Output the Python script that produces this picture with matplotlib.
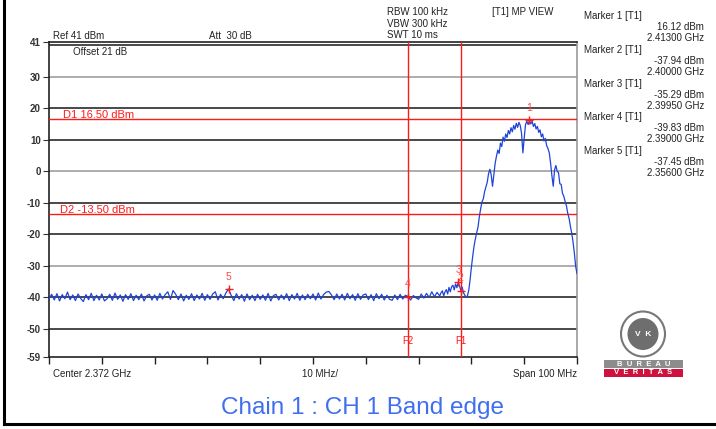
import numpy as np
import matplotlib
matplotlib.use("Agg")
import matplotlib.pyplot as plt
from matplotlib.patches import Ellipse, Rectangle
from matplotlib.lines import Line2D

plt.rcParams['font.family'] = ['Liberation Sans', 'DejaVu Sans']

# ---------------- data ----------------
center_mhz = 2372.0
span_mhz = 100.0
ref_level = 41
bottom_level = -59
y_tick_labels = [41, 30, 20, 10, 0, -10, -20, -30, -40, -50, -59]
grid_levels = [40, 30, 20, 10, 0, -10, -20, -30, -40, -50]

# noise floor, 2322.0 .. 2395.5 MHz every 0.5 MHz
noise_start, noise_step = 2322.0, 0.5
noise_dbm = [
    -40.6, -39.1, -40.9, -38.9, -41.2, -39.2, -40.5, -38.4, -40.8, -39.3,
    -41.1, -39.0, -40.4, -41.4, -39.2, -40.8, -38.8, -41.1, -39.4, -40.9,
    -39.0, -41.2, -40.5, -39.1, -41.0, -38.7, -40.7, -39.3, -41.3, -39.2,
    -40.7, -38.9, -41.1, -39.4, -40.8, -39.0, -41.2, -39.6, -39.1, -40.9,
    -39.3, -41.0, -38.8, -40.6, -39.2, -38.3, -40.7, -37.9, -39.1, -40.8,
    -39.0, -41.2, -39.4, -40.7, -38.9, -41.1, -39.3, -40.6, -38.8, -41.0,
    -39.2, -40.7, -39.0, -38.3, -40.9, -39.1, -40.5, -38.7, -37.4, -39.4,
    -41.1, -38.9, -40.6, -39.2, -41.3, -39.0, -40.8, -39.4, -41.1, -39.1,
    -40.7, -39.3, -41.0, -38.8, -41.2, -39.5, -39.1, -40.9, -39.3, -40.7,
    -38.9, -41.1, -39.2, -40.6, -38.8, -41.0, -39.3, -40.8, -39.1, -40.5,
    -39.0, -40.9, -38.7, -40.6, -39.2, -38.4, -38.2, -39.3, -40.8, -39.0,
    -40.6, -39.1, -40.9, -38.8, -40.5, -39.2, -41.0, -38.9, -40.7, -39.3,
    -39.0, -40.8, -39.2, -41.1, -38.9, -40.5, -39.1, -40.9, -39.4, -40.7,
    -41.0, -39.3, -40.8, -39.1, -40.6, -39.4, -39.8, -40.9, -39.5, -40.2,
    -40.7, -39.0, -40.3, -38.8, -40.1, -38.3, -39.9, -38.5,
]

# band edge + carrier, 2396.0 .. 2422.0 MHz every 0.25 MHz
signal_start, signal_step = 2396.0, 0.25
signal_dbm = [
    -39.6, -38.6, -38.0, -39.6, -38.3, -37.6, -39.0, -36.9, -38.3, -36.7,
    -36.2, -37.7, -35.8, -37.0, -35.3, -36.4, -37.9, -36.8, -38.6, -39.4,
    -40.0, -39.6, -37.8, -34.5, -30.5, -27.0, -23.8, -21.5, -19.5, -17.8,
    -14.5, -12.0, -9.8, -8.8, -6.5, -5.0, -3.5, -0.8, 0.6, -1.2,
    -4.8, -1.0, 2.5, 4.8, 6.7, 5.6, 8.9, 7.8, 10.8, 9.5,
    11.8, 10.7, 12.9, 11.8, 13.8, 12.5, 14.5, 13.3, 15.2, 13.9,
    15.5, 14.5, 12.0, 5.8, 10.5, 14.8, 15.8, 14.8, 16.1, 15.0,
    15.8, 14.2, 15.1, 13.4, 14.2, 12.3, 13.1, 10.9, 11.8, 9.6,
    10.4, 8.1, 7.2, 5.8, 2.5, -1.5, -4.8, 0.4, 1.8, 0.0,
    -0.5, -4.0, -4.2, -7.0, -8.0, -9.6, -11.0, -13.4, -15.0, -17.5,
    -19.7, -22.5, -26.0, -30.3, -32.5,
]

marker_ids = ["1", "2", "3", "4", "5"]
marker_freq_ghz = [2.41300, 2.40000, 2.39950, 2.39000, 2.35600]
marker_dbm = [16.12, -37.94, -35.29, -39.83, -37.45]

d1_level = 16.50
d2_level = -13.50
f1_mhz = 2400.0
f2_mhz = 2390.0

# ---------------- figure ----------------
W, H = 716, 429
fig = plt.figure(figsize=(W / 100, H / 100), dpi=100)
fig.patch.set_facecolor("white")


def px(x, y):
    return x / W, 1 - y / H


ax_l, ax_r, ax_t, ax_b = 49, 577, 42, 357
ax = fig.add_axes([ax_l / W, 1 - ax_b / H, (ax_r - ax_l) / W, (ax_b - ax_t) / H])

f_lo = center_mhz - span_mhz / 2
f_hi = center_mhz + span_mhz / 2
ax.set_xlim(f_lo, f_hi)
ax.set_ylim(bottom_level, ref_level)

# y ticks and grid
ax.set_yticks(y_tick_labels)
ax.set_yticklabels([str(v) for v in y_tick_labels], fontsize=7, fontweight="bold", color="#333333")
ax.tick_params(axis="y", which="major", direction="out", length=4, width=0.8, pad=2, color="#333333")
for lvl in grid_levels:
    ax.axhline(lvl, color="#a0a0a0" if lvl in (30, 0, -30) else "#2a2a2a", lw=1.2, zorder=1)

x_ticks = np.arange(f_lo, f_hi + 0.1, span_mhz / 10)
ax.set_xticks(x_ticks)
ax.set_xticklabels([])
ax.tick_params(axis="x", direction="out", length=5, width=1.0, color="#222222")

for s in ("left", "bottom", "top"):
    ax.spines[s].set_color("#222222")
    ax.spines[s].set_linewidth(1.2)
ax.spines["right"].set_color("#9a9a9a")
ax.spines["right"].set_linewidth(1.2)

# display lines
red = "#ff1a1a"
ax.axhline(d1_level, color=red, lw=1.0, zorder=3)
ax.axhline(d2_level, color=red, lw=1.0, zorder=3)
ax.text(0.027, d1_level + 0.3, f"D1 {d1_level:.2f} dBm", color=red, fontsize=8,
        transform=ax.get_yaxis_transform(), va="baseline", ha="left")
ax.text(0.021, d2_level + 0.3, f"D2 {d2_level:.2f} dBm", color=red, fontsize=8,
        transform=ax.get_yaxis_transform(), va="baseline", ha="left")

# frequency lines
ax.axvline(f1_mhz, color=red, lw=1.0, zorder=3)
ax.axvline(f2_mhz, color=red, lw=1.0, zorder=3)
ax.text(f1_mhz, -53.8, "F1", color=red, fontsize=7, ha="center", va="center", zorder=4)
ax.text(f2_mhz, -53.8, "F2", color=red, fontsize=7, ha="center", va="center", zorder=4)

# trace
noise_f = noise_start + noise_step * np.arange(len(noise_dbm))
signal_f = signal_start + signal_step * np.arange(len(signal_dbm))
trace_f = np.concatenate([noise_f, signal_f])
trace_v = np.concatenate([noise_dbm, signal_dbm])
ax.plot(trace_f, trace_v, color="#1e44d8", lw=0.9, zorder=5)

# markers
for mid, fg, lv in zip(marker_ids, marker_freq_ghz, marker_dbm):
    fm = fg * 1000
    ax.plot([fm], [lv], marker="+", color=red, ms=6, mew=1.0, zorder=6)
    ax.annotate(mid, (fm, lv), xytext=(0, 9), textcoords="offset points",
                color="#ff4a4a", fontsize=7.5, ha="center", va="center", zorder=6)

# header texts
hdr = dict(fontsize=7, color="#222222", va="center", ha="left")
fig.text(*px(53, 36), f"Ref {ref_level} dBm", **hdr)
fig.text(*px(209, 36), "Att  30 dB", **hdr)
fig.text(*px(73, 52), "Offset 21 dB", **hdr)
fig.text(*px(387, 12), "RBW 100 kHz", **hdr)
fig.text(*px(387, 24), "VBW 300 kHz", **hdr)
fig.text(*px(387, 35), "SWT 10 ms", **hdr)
fig.text(*px(492, 12), "[T1] MP VIEW", **hdr)

# marker table
for i, (mid, fg, lv) in enumerate(zip(marker_ids, marker_freq_ghz, marker_dbm)):
    y0 = 16 + i * 33.8
    fig.text(*px(584, y0), f"Marker {mid} [T1]", **hdr)
    fig.text(*px(704, y0 + 11), f"{lv:.2f} dBm", fontsize=7, color="#222222", va="center", ha="right")
    fig.text(*px(704, y0 + 22), f"{fg:.5f} GHz", fontsize=7, color="#222222", va="center", ha="right")

# footer texts
fig.text(*px(53, 374), f"Center {center_mhz / 1000:.3f} GHz", **hdr)
fig.text(*px(302, 374), f"{span_mhz / 10:.0f} MHz/", **hdr)
fig.text(*px(577, 374), f"Span {span_mhz:.0f} MHz", fontsize=7, color="#222222", va="center", ha="right")

# title
fig.text(*px(362, 408), "Chain 1 : CH 1 Band edge", fontsize=17.5, color="#3f6ef0",
         ha="center", va="center")

# outer border (open at top and right)
fig.add_artist(Line2D([4 / W, 4 / W], [1 - 424 / H, 1.0], transform=fig.transFigure,
                      color="black", lw=2.2))
fig.add_artist(Line2D([4 / W, 1.0], [1 - 424 / H, 1 - 424 / H], transform=fig.transFigure,
                      color="black", lw=2.2))

# logo
cx, cy = px(643, 334)
fig.add_artist(Ellipse((cx, cy), 44 / W, 45 / H, transform=fig.transFigure,
                       facecolor="white", edgecolor="#777777", lw=1.5))
fig.add_artist(Ellipse((cx, cy), 31 / W, 32 / H, transform=fig.transFigure,
                       facecolor="#6e6e6e", edgecolor="none"))
fig.text(cx, cy, "V  K", fontsize=6, color="white", fontweight="bold", ha="center", va="center")
fig.add_artist(Rectangle(px(604, 367.5), 79 / W, 7.5 / H, transform=fig.transFigure,
                         facecolor="#8c8c8c", edgecolor="none"))
fig.add_artist(Rectangle(px(604, 377), 79 / W, 8.5 / H, transform=fig.transFigure,
                         facecolor="#cf1140", edgecolor="none"))
fig.text(*px(643.5, 364), "B  U  R  E  A  U", fontsize=5.5, color="white", fontweight="bold",
         ha="center", va="center")
fig.text(*px(643.5, 373), "V  E  R  I  T  A  S", fontsize=5.5, color="white", fontweight="bold",
         ha="center", va="center")

fig.savefig("out.png", dpi=100, facecolor="white")
